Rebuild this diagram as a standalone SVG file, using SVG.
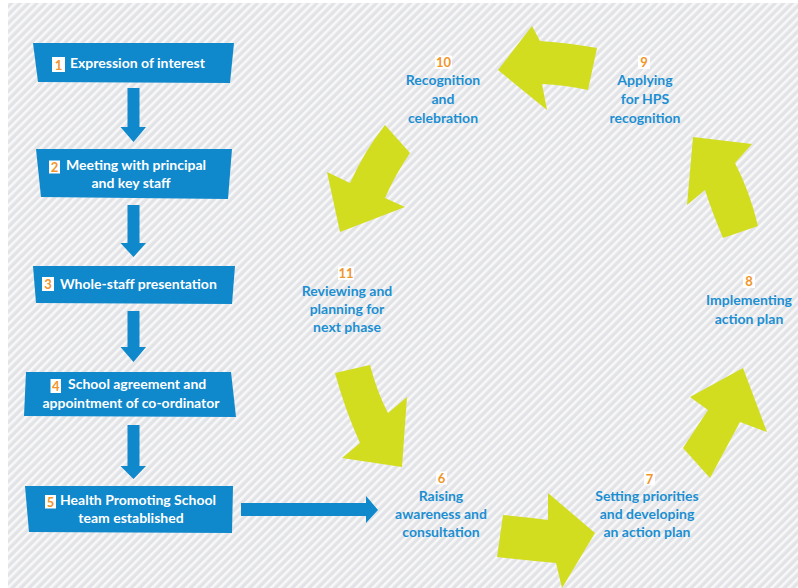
<svg xmlns="http://www.w3.org/2000/svg" width="798" height="588" viewBox="0 0 798 588">
<defs>
<pattern id="hatch" patternUnits="userSpaceOnUse" width="6" height="6" patternTransform="rotate(45)">
<rect width="6" height="6" fill="#e2e3e6"/>
<rect width="2.6" height="6" fill="#f8f8f9"/>
</pattern>
<style>
.box{fill:#0f88cc}
.bt{font-family:Lato,"Liberation Sans",sans-serif;font-weight:bold;font-size:14px;fill:#ffffff}
.num{font-family:Lato,"Liberation Sans",sans-serif;font-weight:bold;font-size:13px;fill:#f0962a;text-anchor:middle}
.sq{fill:#ffffff}
.ct{font-family:Lato,"Liberation Sans",sans-serif;font-weight:bold;font-size:14px;fill:#1c8fd2;text-anchor:middle}
.barrow{fill:#0f88cc}
.garrow{fill:#d3dd1f}
</style>
</defs>
<rect x="0" y="0" width="798" height="588" fill="#ffffff"/>
<rect x="8" y="3" width="790" height="585" fill="url(#hatch)"/>

<g id="connectors">
<polygon class="barrow" points="127.5,88 139.5,88 139.5,127 146,127 133.5,142 120.5,127 127.5,127"/>
<polygon class="barrow" points="127.5,205 139.5,205 139.5,243 146,243 133.5,257 120.5,243 127.5,243"/>
<polygon class="barrow" points="127.5,311 139.5,311 139.5,347 146,347 133.5,362 120.5,347 127.5,347"/>
<polygon class="barrow" points="127.5,425 139.5,425 139.5,466 146,466 133.5,479 120.5,466 127.5,466"/>
<polygon class="barrow" points="241,503 366,503 366,496 378,510 366,523 366,516 241,516"/>
<path class="garrow" d="M497,557 L503,515 Q525,517 548,520 L548,493 L595,533 L562,588 L556,563 Q525,560 497,557 Z"/>
<path class="garrow" d="M683,448 L708,410 L690,397 L743,368 L767,432 L740,422 L710,478 Z"/>
<path class="garrow" d="M723,238 Q712,212 705,190 L687,205 L693,137 L752,144 L735,163 Q750,192 758,226 Z"/>
<path class="garrow" d="M498,70 L532,26 L540,41 Q570,43 597,48 L588,90 Q565,85 542,84 L547,110 Z"/>
<path class="garrow" d="M385,125 L410,153 Q395,175 385,198 L405,207 L340,232 L327,172 L350,183 Q365,150 385,125 Z"/>
<path class="garrow" d="M335,373 L370,365 Q377,392 388,413 L407,397 L402,467 L342,458 L360,443 Q345,410 335,373 Z"/>
</g>

<g id="node-1">
<polygon class="box" points="33,43 234,43 230,83 38,82"/>
<rect class="sq" x="52" y="57" width="13" height="15"/>
<text class="num" x="58.5" y="69.5">1</text>
<text class="bt" x="70" y="67.5">Expression of interest</text>
</g>
<g id="node-2">
<polygon class="box" points="36,149 232,149 228,199 41,197"/>
<rect class="sq" x="49" y="160.5" width="11" height="13"/>
<text class="num" x="54.5" y="171.5">2</text>
<text class="bt" x="66" y="170">Meeting with principal</text>
<text class="bt" x="131" y="188" text-anchor="middle">and key staff</text>
</g>
<g id="node-3">
<polygon class="box" points="33,266 235,266 232,304 36,303"/>
<rect class="sq" x="42" y="277" width="12" height="14"/>
<text class="num" x="48" y="289">3</text>
<text class="bt" x="60" y="288.5">Whole-staff presentation</text>
</g>
<g id="node-4">
<polygon class="box" points="26,372 231,372 236,417 24,416"/>
<rect class="sq" x="50.5" y="379" width="10.5" height="14"/>
<text class="num" x="55.8" y="390.5">4</text>
<text class="bt" x="68" y="389">School agreement and</text>
<text class="bt" x="131" y="408" text-anchor="middle">appointment of co-ordinator</text>
</g>
<g id="node-5">
<polygon class="box" points="25,486 233,486 232,533 29,532"/>
<rect class="sq" x="45" y="495" width="11" height="13.5"/>
<text class="num" x="50.5" y="506.5">5</text>
<text class="bt" x="60" y="505">Health Promoting School</text>
<text class="bt" x="131" y="523" text-anchor="middle">team established</text>
</g>

<g id="node-6">
<rect class="sq" x="436" y="471.5" width="11" height="13"/>
<text class="num" x="441.5" y="482.5">6</text>
<text class="ct" x="441" y="501">Raising</text>
<text class="ct" x="441" y="519">awareness and</text>
<text class="ct" x="441" y="537">consultation</text>
</g>
<g id="node-7">
<rect class="sq" x="644" y="471.5" width="11" height="14"/>
<text class="num" x="649.5" y="483.5">7</text>
<text class="ct" x="647" y="500.5">Setting priorities</text>
<text class="ct" x="647" y="518.5">and developing</text>
<text class="ct" x="647" y="537">an action plan</text>
</g>
<g id="node-8">
<rect class="sq" x="743" y="274" width="12" height="14"/>
<text class="num" x="749" y="286">8</text>
<text class="ct" x="749" y="305">Implementing</text>
<text class="ct" x="749" y="324">action plan</text>
</g>
<g id="node-9">
<rect class="sq" x="638" y="55.5" width="12" height="13.5"/>
<text class="num" x="644" y="67">9</text>
<text class="ct" x="645" y="85">Applying</text>
<text class="ct" x="645" y="104">for HPS</text>
<text class="ct" x="645" y="122.5">recognition</text>
</g>
<g id="node-10">
<rect class="sq" x="435" y="55.5" width="17" height="13.5"/>
<text class="num" x="443.5" y="67">10</text>
<text class="ct" x="443" y="85">Recognition</text>
<text class="ct" x="443" y="104">and</text>
<text class="ct" x="443" y="122.5">celebration</text>
</g>
<g id="node-11">
<rect class="sq" x="338" y="266.5" width="16" height="13.5"/>
<text class="num" x="346" y="278">11</text>
<text class="ct" x="347" y="296">Reviewing and</text>
<text class="ct" x="347" y="314">planning for</text>
<text class="ct" x="347" y="332">next phase</text>
</g>
</svg>
